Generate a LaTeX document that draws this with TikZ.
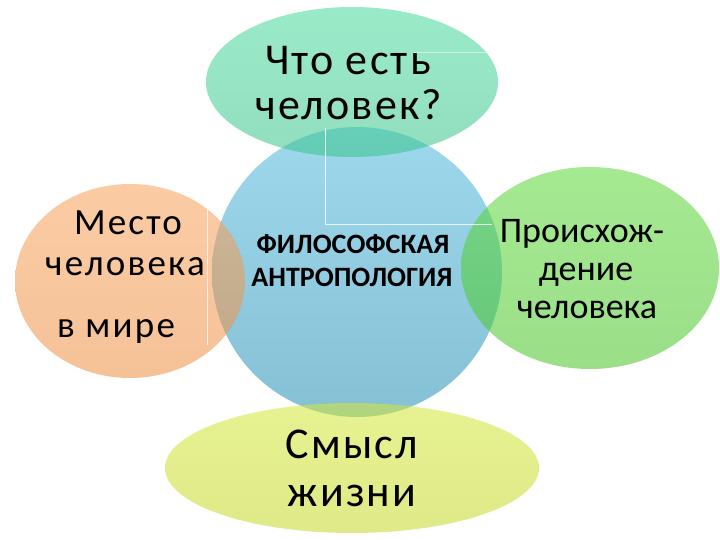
\documentclass[tikz,border=0pt]{standalone}
\usepackage{fontspec}
\setmainfont{Carlito}
\definecolor{cBlueT}{HTML}{9DD8EC}
\definecolor{cBlueB}{HTML}{86C0D4}
\definecolor{cTopT}{HTML}{48DA9C}
\definecolor{cTopB}{HTML}{38C48A}
\definecolor{cLeftT}{HTML}{F8A25A}
\definecolor{cLeftB}{HTML}{EE9044}
\definecolor{cRightT}{HTML}{5CD838}
\definecolor{cRightB}{HTML}{48C626}
\definecolor{cBotT}{HTML}{D4E838}
\definecolor{cBotB}{HTML}{C6D826}
\begin{document}
\begin{tikzpicture}[x=1pt,y=-1pt,
  blob/.style={fill opacity=0.55},
  artline/.style={draw=white,line width=0.8pt,opacity=0.8},
  lbl/.style={anchor=base,inner sep=0pt,text=black},
  big/.style={font=\fontsize{44}{48}\selectfont\addfontfeature{LetterSpace=5}},
  mid/.style={font=\fontsize{37}{40}\selectfont\addfontfeature{LetterSpace=6}},
  rmid/.style={font=\fontsize{36}{40}\selectfont},
  ctr/.style={font=\bfseries\fontsize{28}{30}\selectfont}]
\useasboundingbox (0,0) rectangle (720,540);
\fill[white] (0,0) rectangle (720,540);
% shapes
\shade[top color=cBlueT,bottom color=cBlueB] (357,272) circle (145pt);
\shade[blob,top color=cLeftT,bottom color=cLeftB] (130,281) ellipse [x radius=115pt,y radius=97pt];
\shade[blob,top color=cRightT,bottom color=cRightB] (590,268) ellipse [x radius=129pt,y radius=101pt];
\shade[blob,top color=cTopT,bottom color=cTopB] (352,82) ellipse [x radius=146pt,y radius=75pt];
\shade[blob,top color=cBotT,bottom color=cBotB] (352,468) ellipse [x radius=187pt,y radius=65pt];
% faint text-box edges
\coordinate (v1) at (325,128);
\coordinate (v2) at (325,224);
\coordinate (h2) at (492,224);
\coordinate (t1) at (413,52);
\coordinate (t2) at (494,52);
\coordinate (l1) at (207,200);
\coordinate (l2) at (207,345);
\draw[artline] (v1) -- (v2) -- (h2);
\draw[artline,opacity=0.5] (t1) -- (t2);
\draw[artline] (l1) -- (l2);
% texts
\node[lbl,big] (top1) at (348,75) {Что есть};
\node[lbl,big] (top2) at (349,120) {человек?};
\node[lbl,mid] (left1) at (128,235) {Место};
\node[lbl,mid] (left2) at (125,275) {человека};
\node[lbl,mid] (left3) at (116,337) {в мире};
\node[lbl,rmid] (right1) at (582,242) {Происхож-};
\node[lbl,rmid] (right2) at (586,280) {дение};
\node[lbl,rmid] (right3) at (587,318) {человека};
\node[lbl,big] (bot1) at (352,458) {Смысл};
\node[lbl,big] (bot2) at (352,506) {жизни};
\node[lbl,ctr] (c1) at (353,253) {ФИЛОСОФСКАЯ};
\node[lbl,ctr] (c2) at (352,286) {АНТРОПОЛОГИЯ};
\end{tikzpicture}
\end{document}
